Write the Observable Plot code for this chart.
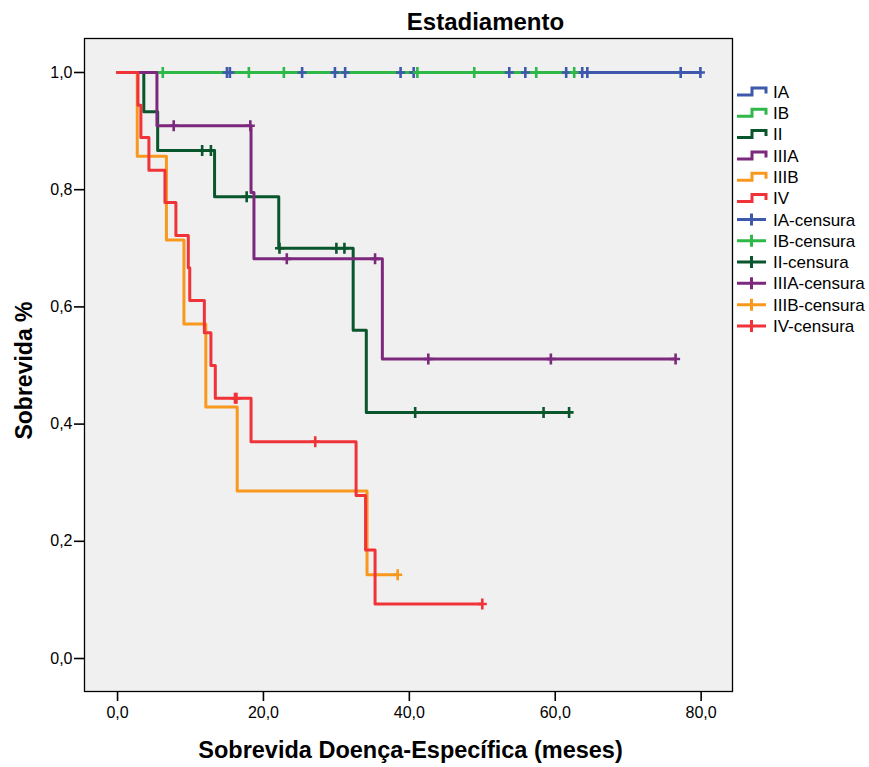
<!DOCTYPE html>
<html><head><meta charset="utf-8">
<script src="https://cdn.jsdelivr.net/npm/d3@7"></script>
<script src="https://cdn.jsdelivr.net/npm/@observablehq/plot@0.6"></script>
<style>
body{margin:0;background:#fff;}
#chart{position:relative;width:869px;height:767px;}
g[aria-label$="axis tick"]{stroke-width:1.6px;}
</style></head><body><div id="chart"></div>
<script>
// ---- data ----
const groups = ["IA", "IB", "II", "IIIA", "IIIB", "IV"];
const colors = ["#3E58AC", "#2EB848", "#0A562C", "#7C287D", "#F8981D", "#EF3338"];

// Kaplan-Meier step points: time (months) and cumulative survival
const timesIA = [0, 79.9];
const survIA  = [1, 1];
const timesIB = [0, 62.6];
const survIB  = [1, 1];
const timesII = [0, 3.6, 5.5, 13.3, 22.1, 32.3, 34.1, 61.9];
const survII  = [1, 0.933, 0.867, 0.788, 0.700, 0.560, 0.420, 0.420];
const timesIIIA = [0, 5.4, 18.3, 18.7, 36.3, 76.5];
const survIIIA  = [1, 0.909, 0.795, 0.682, 0.511, 0.511];
const timesIIIB = [0, 2.7, 6.7, 9.1, 12.1, 16.4, 34.2, 38.4];
const survIIIB  = [1, 0.857, 0.714, 0.571, 0.429, 0.286, 0.143, 0.143];
const timesIV = [0, 2.8, 3.2, 4.3, 6.5, 8.0, 9.7, 9.9, 11.9, 12.8, 13.4, 18.3, 32.7, 34.0, 35.3, 50.0];
const survIV  = [1, 0.944, 0.889, 0.833, 0.778, 0.722, 0.667, 0.611, 0.556, 0.500, 0.444, 0.370, 0.278, 0.185, 0.093, 0.093];

// censored observation times (months)
const censIA = [15.0, 15.4, 25.3, 29.8, 31.2, 38.8, 40.6, 53.7, 55.9, 61.5, 63.7, 64.4, 77.2, 79.9];
const censIB = [6.2, 18.0, 22.8, 41.1, 48.9, 57.4, 62.6];
const censII = [11.6, 12.8, 17.7, 22.2, 30.0, 31.1, 40.8, 58.4, 61.9];
const censIIIA = [7.7, 18.2, 23.2, 35.3, 42.6, 59.4, 76.5];
const censIIIB = [38.4];
const censIV = [16.1, 16.3, 27.1, 50.0];

const xTicks = [0, 20, 40, 60, 80];
const yTicks = [0, 0.2, 0.4, 0.6, 0.8, 1.0];
const title = "Estadiamento";
const xLabel = "Sobrevida Doença-Específica (meses)";
const yLabel = "Sobrevida %";
const legendLines = ["IA", "IB", "II", "IIIA", "IIIB", "IV"];
const legendCens = ["IA-censura", "IB-censura", "II-censura", "IIIA-censura", "IIIB-censura", "IV-censura"];

// ---- build tables ----
const stepSrc = {IA: [timesIA, survIA], IB: [timesIB, survIB], II: [timesII, survII],
  IIIA: [timesIIIA, survIIIA], IIIB: [timesIIIB, survIIIB], IV: [timesIV, survIV]};
const censSrc = {IA: censIA, IB: censIB, II: censII, IIIA: censIIIA, IIIB: censIIIB, IV: censIV};

const steps = groups.map(g => stepSrc[g][0].map((t, i) => ({group: g, time: t, surv: stepSrc[g][1][i]})));
function survAt(g, t) {
  const [ts, ss] = stepSrc[g];
  let s = ss[0];
  for (let i = 0; i < ts.length; i++) if (ts[i] <= t + 1e-9) s = ss[i];
  return s;
}
const cens = groups.flatMap(g => censSrc[g].map(t => ({group: g, time: t, surv: survAt(g, t)})));

const plusSymbol = {draw(ctx) { ctx.moveTo(0, -5.5); ctx.lineTo(0, 5.5); ctx.moveTo(-4.5, 0); ctx.lineTo(4.5, 0); }};
const fmt = d => d3.format(".1f")(d).replace(".", ",");
const FONT = "'Liberation Sans', Arial, sans-serif";

const W = 869, H = 767, mL = 84, mR = 137, mT = 38, mB = 76;
const fx = (mL + W - mR) / 2, fy = (mT + H - mB) / 2;

const chart = Plot.plot({
  width: W, height: H,
  marginLeft: mL, marginRight: mR, marginTop: mT, marginBottom: mB,
  style: {fontFamily: FONT, fontSize: "16px", background: "white", color: "black", overflow: "visible"},
  x: {domain: [-4.53, 84.3], ticks: xTicks, tickSize: 10, tickPadding: 5, tickFormat: fmt, label: null},
  y: {domain: [-0.0563, 1.058], ticks: yTicks, tickSize: 10, tickPadding: 2, tickFormat: fmt, label: null},
  color: {domain: groups, range: colors},
  marks: [
    Plot.frame({fill: "#F0F0F0", stroke: "none"}),
    ...steps.map(s => Plot.line(s, {x: "time", y: "surv", stroke: "group", curve: "step-after", strokeWidth: 3})),
    Plot.dot(cens, {x: "time", y: "surv", stroke: "group", symbol: plusSymbol, r: 5, fill: "none", strokeWidth: 2.6}),
    Plot.frame({stroke: "black", strokeWidth: 1.3}),
    Plot.text([title], {frameAnchor: "top", lineAnchor: "middle", textAnchor: "middle", dx: 485 - fx, dy: 22 - mT, fontSize: 24, fontWeight: "bold", fill: "black"}),
    Plot.text([xLabel], {frameAnchor: "bottom", lineAnchor: "middle", textAnchor: "middle", dx: 410 - fx, dy: 750 - (H - mB), fontSize: 23.5, fontWeight: "bold", fill: "black"}),
    Plot.text([yLabel], {frameAnchor: "left", lineAnchor: "middle", textAnchor: "middle", rotate: -90, dx: 24 - mL, dy: 370 - fy, fontSize: 23, fontWeight: "bold", fill: "black"})
  ]
});
document.getElementById("chart").appendChild(chart);

// ---- legend ----
const svg = d3.select(chart);
const lg = svg.append("g").attr("font-family", FONT).attr("font-size", 17).attr("text-anchor", "start");
const rowY = i => 91.4 + i * 21.33;
legendLines.forEach((lab, i) => {
  const y = rowY(i), c = colors[i];
  lg.append("path").attr("d", `M737,${y + 3.5}H752V${y - 3.5}H766V${y + 2}`)
    .attr("fill", "none").attr("stroke", c).attr("stroke-width", 3);
  lg.append("text").attr("x", 773).attr("y", y).attr("dy", "0.36em").attr("fill", "black").attr("text-anchor", "start").text(lab);
});
legendCens.forEach((lab, j) => {
  const i = j + 6, y = rowY(i), c = colors[j];
  lg.append("path").attr("d", `M737,${y}H766M751.5,${y - 6}V${y + 6}`)
    .attr("fill", "none").attr("stroke", c).attr("stroke-width", 3);
  lg.append("text").attr("x", 773).attr("y", y).attr("dy", "0.36em").attr("fill", "black").attr("text-anchor", "start").text(lab);
});
</script></body></html>
